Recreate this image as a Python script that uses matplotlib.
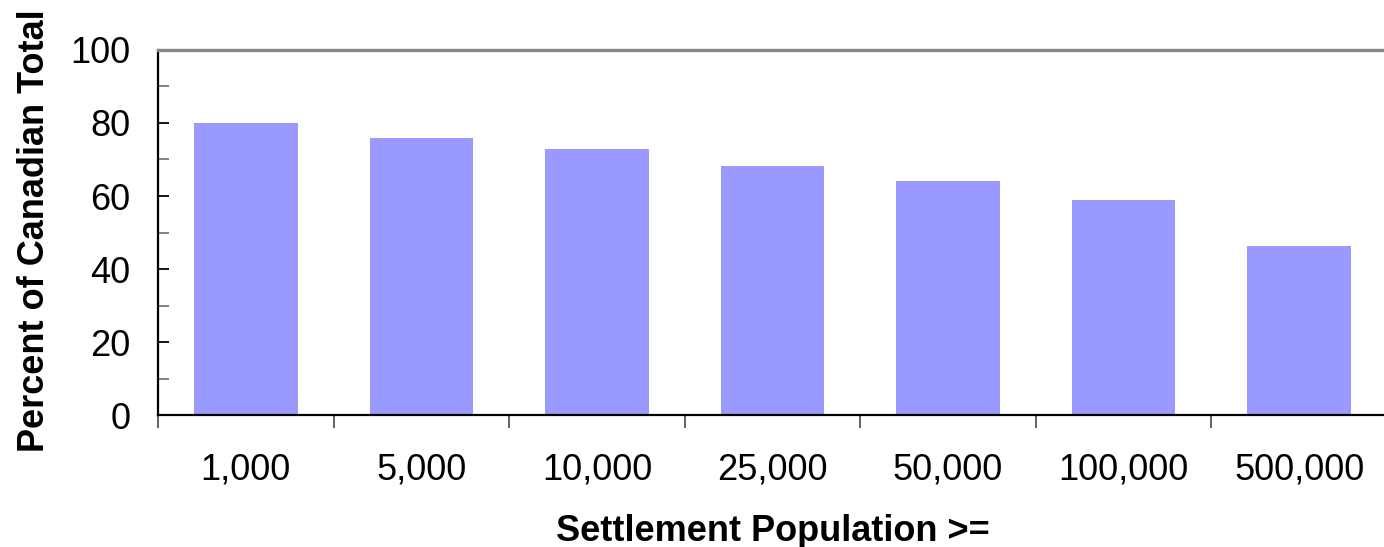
import matplotlib
matplotlib.use("Agg")
import matplotlib.pyplot as plt
import numpy as np
from matplotlib.ticker import FixedLocator, MultipleLocator

plt.rcParams['font.family'] = ['Liberation Sans', 'DejaVu Sans']

# share of Canadian population living in settlements at least this large
sizes = ["1,000", "5,000", "10,000", "25,000", "50,000", "100,000", "500,000"]
percent = [80.0, 75.9, 72.9, 68.2, 64.1, 58.9, 46.3]

fig = plt.figure(figsize=(13.84, 5.47), dpi=100)
ax = fig.add_axes([0.1142, 0.2413, 0.888, 0.6673])

x = np.arange(len(sizes))
ax.bar(x, percent, width=0.59, color="#9999FF", zorder=2)

ax.set_xlim(-0.5, len(sizes) - 0.5)
ax.set_ylim(0, 100)

# y axis: labelled every 20, small ticks in between
ax.yaxis.set_major_locator(MultipleLocator(20))
ax.yaxis.set_minor_locator(MultipleLocator(10))
ax.tick_params(axis="y", which="major", direction="in", length=8, width=1.3,
               color="black", labelsize=26, pad=20)
ax.tick_params(axis="y", which="minor", direction="in", length=8, width=1.3,
               color="#777777")

# x axis: names centred under bars, tick marks between categories
ax.set_xticks(x)
ax.set_xticklabels(sizes)
ax.xaxis.set_minor_locator(FixedLocator(np.arange(-0.5, len(sizes), 1.0)))
ax.tick_params(axis="x", which="major", length=0, labelsize=26, pad=27)
ax.tick_params(axis="x", which="minor", direction="out", length=9, width=1.3,
               color="#555555")

ax.spines["right"].set_visible(False)
ax.spines["top"].set_color("#888888")
ax.spines["top"].set_linewidth(2.4)
ax.spines["left"].set_linewidth(1.6)
ax.spines["bottom"].set_linewidth(1.6)

ax.set_ylabel("Percent of Canadian Total", fontsize=26, fontweight="bold")
ax.yaxis.set_label_coords(-0.086, 0.505)
ax.set_xlabel("Settlement Population >=", fontsize=26, fontweight="bold",
              labelpad=19)

fig.savefig("out.png", dpi=100)
